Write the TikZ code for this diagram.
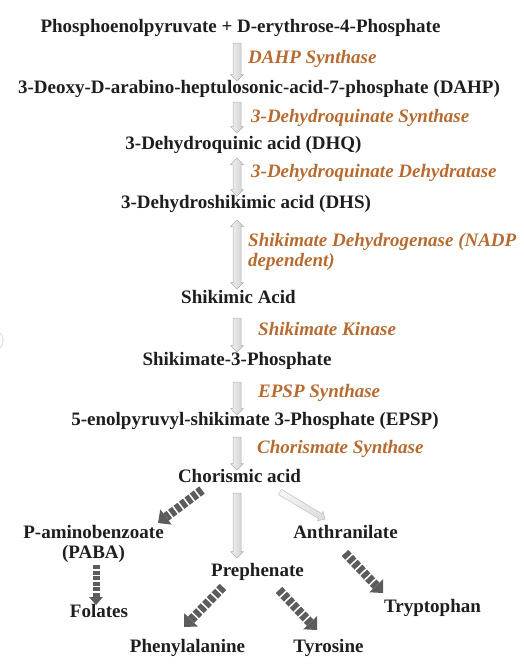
\documentclass[tikz,border=0pt]{standalone}
\usepackage{fontspec}
\setmainfont{Liberation Serif}
\usetikzlibrary{calc,arrows.meta}
\definecolor{orng}{RGB}{183,107,48}
\definecolor{txt}{RGB}{30,30,30}
\definecolor{dgray}{RGB}{92,92,92}
% single block arrow: name, style, start, end, half shaft, half head
\newcommand\sarrow[6]{%
  \coordinate (#1s) at (#3); \coordinate (#1e) at (#4);
  \coordinate (#1n) at ($(#1e)!#6!(#1s)$);
  \path[#2] ($(#1s)!#5!90:(#1e)$) -- ($(#1n)!#5!90:(#1e)$) -- ($(#1n)!#6!90:(#1e)$) -- (#1e)
    -- ($(#1n)!#6!-90:(#1e)$) -- ($(#1n)!#5!-90:(#1e)$) -- ($(#1s)!#5!-90:(#1e)$) -- cycle;}
% double block arrow
\newcommand\darrow[6]{%
  \coordinate (#1s) at (#3); \coordinate (#1e) at (#4);
  \coordinate (#1m) at ($(#1s)!#6!(#1e)$);
  \coordinate (#1n) at ($(#1e)!#6!(#1s)$);
  \path[#2] (#1s) -- ($(#1m)!#6!90:(#1e)$) -- ($(#1m)!#5!90:(#1e)$) -- ($(#1n)!#5!90:(#1e)$)
    -- ($(#1n)!#6!90:(#1e)$) -- (#1e) -- ($(#1n)!#6!-90:(#1e)$) -- ($(#1n)!#5!-90:(#1e)$)
    -- ($(#1m)!#5!-90:(#1e)$) -- ($(#1m)!#6!-90:(#1e)$) -- cycle;}
\tikzset{
  txtn/.style={anchor=base, inner sep=0pt, font=\fontsize{19}{22}\selectfont\bfseries, text=txt},
  enz/.style={anchor=base west, inner sep=0pt, font=\fontsize{19}{22}\selectfont\bfseries\itshape, text=orng},
  blk/.style={draw=gray!60, line width=0.5pt, line join=miter, left color=gray!10, right color=gray!38},
  lblk/.style={draw=gray!50, line width=0.5pt, line join=miter, left color=gray!6, right color=gray!28},
  dash arr/.style={draw=dgray, line width=9pt, dash pattern=on 5pt off 1.8pt,
    -{Triangle[width=19pt,length=10pt,line width=0pt]}},
  dash arr small/.style={draw=dgray, line width=7pt, dash pattern=on 4pt off 1.6pt,
    -{Triangle[width=14pt,length=8pt,line width=0pt]}},
}
\begin{document}
\begin{tikzpicture}[x=1pt,y=-1pt]
\useasboundingbox (0,0) rectangle (524,672);
\coordinate (ax) at (237,0);
% metabolites
\node[txtn] (t0) at (240.5,32) {Phosphoenolpyruvate + D-erythrose-4-Phosphate};
\node[txtn] (t1) at (259,93) {3-Deoxy-D-arabino-heptulosonic-acid-7-phosphate (DAHP)};
\node[txtn] (t2) at (243.5,149) {3-Dehydroquinic acid (DHQ)};
\node[txtn] (t3) at (246,208) {3-Dehydroshikimic acid (DHS)};
\node[txtn] (t4) at (238.5,303) {Shikimic Acid};
\node[txtn] (t5) at (237,365) {Shikimate-3-Phosphate};
\node[txtn] (t6) at (255,425) {5-enolpyruvyl-shikimate 3-Phosphate (EPSP)};
\node[txtn] (t7) at (239.5,482) {Chorismic acid};
\node[txtn] (pa) at (93.5,538) {P-aminobenzoate};
\node[txtn] (pb) at (93.5,558) {(PABA)};
\node[txtn] (an) at (345.5,538) {Anthranilate};
\node[txtn] (pr) at (257.5,576) {Prephenate};
\node[txtn] (fo) at (99,617) {Folates};
\node[txtn] (tr) at (432.5,612) {Tryptophan};
\node[txtn] (ph) at (187.5,652) {Phenylalanine};
\node[txtn] (ty) at (328.5,652) {Tyrosine};
% enzymes
\node[enz] (e1) at (248,63) {DAHP Synthase};
\node[enz] (e2) at (251,122) {3-Dehydroquinate Synthase};
\node[enz] (e3) at (251,177) {3-Dehydroquinate Dehydratase};
\node[enz] (e4) at (248,246) {Shikimate Dehydrogenase (NADP};
\node[enz] (e4b) at (248,266) {dependent)};
\node[enz] (e5) at (258,335) {Shikimate Kinase};
\node[enz] (e6) at (258,397) {EPSP Synthase};
\node[enz] (e7) at (257,453) {Chorismate Synthase};
% block arrows
\sarrow{a1}{blk}{$(t0.base -| ax)+(0,11)$}{$(t1.base -| ax)+(0,-12)$}{4pt}{6.5pt}
\sarrow{a2}{blk}{$(t1.base -| ax)+(0,9)$}{$(t2.base -| ax)+(0,-16)$}{4pt}{6.5pt}
\darrow{a3}{blk}{$(t2.base -| ax)+(0,9)$}{$(t3.base -| ax)+(0,-12)$}{4pt}{6.5pt}
\darrow{a4}{blk}{$(t3.base -| ax)+(0,12)$}{$(t4.base -| ax)+(0,-14)$}{4pt}{6.5pt}
\sarrow{a5}{blk}{$(t4.base -| ax)+(0,15)$}{$(t5.base -| ax)+(0,-13)$}{4pt}{6.5pt}
\sarrow{a6}{blk}{$(t5.base -| ax)+(0,17)$}{$(t6.base -| ax)+(0,-10)$}{4pt}{6.5pt}
\sarrow{a7}{blk}{$(t6.base -| ax)+(0,12)$}{$(t7.base -| ax)+(0,-12)$}{4pt}{6.5pt}
\sarrow{a8}{blk}{$(t7.base -| ax)+(0,11)$}{$(pr.base -| ax)+(0,-18)$}{4pt}{6.5pt}
\sarrow{a9}{lblk}{$(t7.base)+(40.5,10)$}{$(an.base)+(-20.5,-19)$}{3pt}{5.5pt}
% dashed block arrows
\draw[dash arr] ($(t7.base)+(-37.5,8)$) -- ($(pa.base)+(64.5,-15)$);
\draw[dash arr small] ($(pb.base)+(2.5,7)$) -- ($(fo.base)+(-3,-12)$);
\draw[dash arr] ($(pr.base)+(-34.5,11)$) -- ($(ph.base)+(-3.5,-25)$);
\draw[dash arr] ($(pr.base)+(21.5,14)$) -- ($(ty.base)+(-11.5,-22)$);
\draw[dash arr] ($(an.base)+(-0.5,15)$) -- ($(tr.base)+(-49.5,-19)$);
% edge artifact
\draw[gray!22, line width=1.2pt] (0.3,333) .. controls (4,337) and (4,344) .. (0.3,348);
\end{tikzpicture}
\end{document}
